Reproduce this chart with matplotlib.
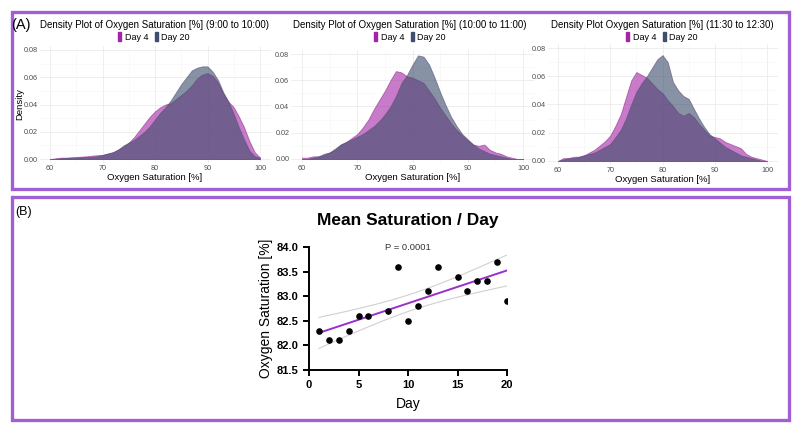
import numpy as np
import matplotlib
matplotlib.use("Agg")
import matplotlib.pyplot as plt
from matplotlib.patches import Rectangle, Patch

plt.rcParams["font.family"] = ["Liberation Sans", "DejaVu Sans"]

# ---- data -------------------------------------------------------------
sat = np.arange(60, 101)  # oxygen saturation grid, 60..100

titles = [
    "Density Plot of Oxygen Saturation [%] (9:00 to 10:00)",
    "Density Plot of Oxygen Saturation [%] (10:00 to 11:00)",
    "Density Plot Oxygen Saturation [%] (11:30 to 12:30)",
]
groups = ["Day 4", "Day 20"]

day4_p1 = [0.000, 0.0005, 0.001, 0.001, 0.0012, 0.0015, 0.0018, 0.002, 0.0025, 0.0028,
           0.003, 0.004, 0.005, 0.007, 0.009, 0.012, 0.016, 0.021, 0.026, 0.031,
           0.035, 0.038, 0.040, 0.041, 0.044, 0.047, 0.050, 0.054, 0.059, 0.062,
           0.063, 0.061, 0.056, 0.048, 0.042, 0.038, 0.031, 0.023, 0.013, 0.005, 0.001]
day20_p1 = [0.000, 0.000, 0.0005, 0.0008, 0.001, 0.001, 0.0012, 0.0014, 0.0016, 0.002,
            0.003, 0.004, 0.005, 0.007, 0.010, 0.012, 0.014, 0.017, 0.020, 0.024,
            0.029, 0.034, 0.038, 0.043, 0.049, 0.055, 0.060, 0.065, 0.067, 0.068,
            0.068, 0.064, 0.058, 0.049, 0.042, 0.033, 0.023, 0.014, 0.006, 0.002, 0.001]

day4_p2 = [0.001, 0.001, 0.002, 0.002, 0.003, 0.005, 0.007, 0.011, 0.013, 0.016,
           0.019, 0.024, 0.030, 0.038, 0.045, 0.052, 0.060, 0.067, 0.066, 0.063,
           0.062, 0.060, 0.058, 0.052, 0.046, 0.039, 0.033, 0.027, 0.022, 0.018,
           0.014, 0.011, 0.010, 0.011, 0.007, 0.005, 0.004, 0.002, 0.001, 0.000, 0.000]
day20_p2 = [0.000, 0.000, 0.001, 0.002, 0.004, 0.005, 0.008, 0.011, 0.013, 0.015,
            0.017, 0.019, 0.022, 0.025, 0.029, 0.034, 0.040, 0.048, 0.058, 0.064,
            0.072, 0.079, 0.078, 0.072, 0.062, 0.051, 0.041, 0.032, 0.025, 0.019,
            0.015, 0.011, 0.008, 0.006, 0.004, 0.003, 0.002, 0.001, 0.000, 0.000, 0.000]

day4_p3 = [0.000, 0.002, 0.002, 0.003, 0.003, 0.004, 0.006, 0.008, 0.011, 0.014,
           0.018, 0.025, 0.033, 0.045, 0.057, 0.063, 0.061, 0.059, 0.055, 0.051,
           0.048, 0.043, 0.039, 0.034, 0.032, 0.034, 0.031, 0.026, 0.022, 0.018,
           0.017, 0.016, 0.0135, 0.012, 0.0105, 0.009, 0.005, 0.003, 0.002, 0.001, 0.000]
day20_p3 = [0.000, 0.001, 0.002, 0.002, 0.003, 0.004, 0.005, 0.006, 0.008, 0.010,
            0.012, 0.017, 0.022, 0.030, 0.040, 0.049, 0.055, 0.060, 0.066, 0.072,
            0.075, 0.070, 0.056, 0.050, 0.046, 0.044, 0.037, 0.030, 0.024, 0.019,
            0.016, 0.013, 0.010, 0.008, 0.006, 0.004, 0.003, 0.002, 0.001, 0.000, 0.000]

day4_all = [day4_p1, day4_p2, day4_p3]
day20_all = [day20_p1, day20_p2, day20_p3]

days = [1, 2, 3, 4, 5, 6, 8, 9, 10, 11, 12, 13, 15, 16, 17, 18, 19, 20]
mean_sat = [82.3, 82.1, 82.1, 82.3, 82.6, 82.6, 82.7, 83.6, 82.5, 82.8,
            83.1, 83.6, 83.4, 83.1, 83.3, 83.3, 83.7, 82.9]
p_text = "P = 0.0001"

# ---- figure -----------------------------------------------------------
W, H = 800, 432
fig = plt.figure(figsize=(8, 4.32), dpi=100)

def px(l, t, r, b):
    return [l / W, 1 - b / H, (r - l) / W, (b - t) / H]

c_d4 = "#a424a4"
c_d20 = "#3e4f6c"
purple = "#a15fd6"

# frames
fig.add_artist(Rectangle((11.5 / W, 1 - 189 / H), 777.5 / W, 177.5 / H,
                         transform=fig.transFigure, fill=False, ec=purple, lw=2.4))
fig.add_artist(Rectangle((12 / W, 1 - 419.5 / H), 776.5 / W, 222.5 / H,
                         transform=fig.transFigure, fill=False, ec=purple, lw=2.4))
fig.text(11 / W, 1 - 25 / H, "(A)", fontsize=10.5, va="center", ha="left")
fig.text(15 / W, 1 - 212 / H, "(B)", fontsize=9, va="center", ha="left")

# panel A: density plots
boxes = [px(39.5, 45.9, 270.5, 163.1), px(291, 50.1, 534, 162.9), px(547.5, 43.8, 777.5, 165.2)]
title_x = [154, 410, 662]
for i, rect in enumerate(boxes):
    ax = fig.add_axes(rect)
    ax.fill_between(sat, day4_all[i], color=c_d4, alpha=0.6, lw=0.6, ec="#8a2a8a")
    ax.fill_between(sat, day20_all[i], color=c_d20, alpha=0.62, lw=0.6, ec="#5a4a7a")
    ax.set_xlim(58, 102)
    ax.set_ylim(-0.003, 0.083)
    ax.set_xticks([60, 70, 80, 90, 100])
    ax.set_xticks([65, 75, 85, 95], minor=True)
    ax.set_yticks([0, 0.02, 0.04, 0.06, 0.08])
    ax.set_yticks([0.01, 0.03, 0.05, 0.07], minor=True)
    ax.yaxis.set_major_formatter(matplotlib.ticker.FormatStrFormatter("%.2f"))
    ax.grid(True, which="major", color="#ebebeb", lw=0.6)
    ax.grid(True, which="minor", color="#f5f5f5", lw=0.4)
    ax.set_axisbelow(True)
    for s in ax.spines.values():
        s.set_visible(False)
    ax.tick_params(which="both", length=0, labelsize=5.2, labelcolor="#4d4d4d", pad=1.2)
    ax.set_xlabel("Oxygen Saturation [%]", fontsize=6.8, labelpad=1)
    if i == 0:
        ax.set_ylabel("Density", fontsize=6.8, labelpad=0)
        ax.yaxis.set_label_coords(-0.065, 0.5)
    fig.text(title_x[i] / W, 1 - 25 / H, titles[i], fontsize=7.0, ha="center", va="center")
    handles = [Patch(color=c_d4), Patch(color=c_d20)]
    fig.legend(handles, groups, loc="center", bbox_to_anchor=(title_x[i] / W, 1 - 37 / H),
               ncol=2, frameon=False, fontsize=6.5, handlelength=0.35, handleheight=1.1,
               handletextpad=0.4, columnspacing=0.7, borderpad=0, borderaxespad=0)

# panel B: mean saturation per day
ax = fig.add_axes(px(309, 247, 507, 370))
x = np.array(days, dtype=float)
y = np.array(mean_sat)
slope, icpt = np.polyfit(x, y, 1)
xf = np.linspace(x.min(), x.max(), 100)
yf = slope * xf + icpt
n = len(x)
resid = y - (slope * x + icpt)
s = np.sqrt(np.sum(resid ** 2) / (n - 2))
se = s * np.sqrt(1 / n + (xf - x.mean()) ** 2 / np.sum((x - x.mean()) ** 2))
t95 = 2.12
ax.plot(xf, yf + t95 * se, color="#d0d0d0", lw=0.8)
ax.plot(xf, yf - t95 * se, color="#d0d0d0", lw=0.8)
ax.plot(xf, yf, color="#9a2fd0", lw=1.4)
ax.scatter(x, y, s=14, color="black", zorder=3)
ax.set_xlim(0, 20)
ax.set_ylim(81.5, 84.0)
ax.set_xticks([0, 5, 10, 15, 20])
ax.set_yticks([81.5, 82.0, 82.5, 83.0, 83.5, 84.0])
ax.yaxis.set_major_formatter(matplotlib.ticker.FormatStrFormatter("%.1f"))
for s_ in ["top", "right"]:
    ax.spines[s_].set_visible(False)
for s_ in ["left", "bottom"]:
    ax.spines[s_].set_linewidth(1.4)
ax.tick_params(width=1.4, length=4, labelsize=8)
for lab in ax.get_xticklabels() + ax.get_yticklabels():
    lab.set_fontweight("bold")
ax.set_xlabel("Day", fontsize=10, labelpad=5)
ax.set_ylabel("Oxygen Saturation [%]", fontsize=10, labelpad=3)
ax.text(0.5, 1.0, p_text, transform=ax.transAxes, ha="center", va="center",
        fontsize=6.8, color="#333333")
ax.set_title("Mean Saturation / Day", fontsize=12.5, fontweight="bold", pad=16)

plt.savefig("out.png", dpi=100)
